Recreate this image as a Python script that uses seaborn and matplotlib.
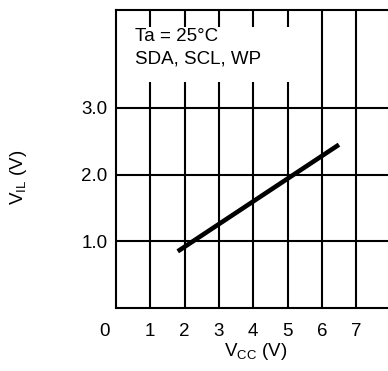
import matplotlib
matplotlib.use("Agg")
import matplotlib.pyplot as plt
from matplotlib.patches import Rectangle
import seaborn as sns
import pandas as pd

# V_IL vs V_CC (Ta = 25C)
vcc = [1.8, 6.5]
vil = [0.85, 2.45]
x_ticks = [1, 2, 3, 4, 5, 6, 7]
y_ticks = [1.0, 2.0, 3.0]
y_tick_labels = ["1.0", "2.0", "3.0"]
notes = ["Ta = 25\u00b0C", "SDA, SCL, WP"]

sns.set_theme(style="white")
plt.rcParams["font.family"] = ["Liberation Sans", "DejaVu Sans"]
plt.rcParams["mathtext.fontset"] = "custom"
plt.rcParams["mathtext.rm"] = "Liberation Sans"

FS = 13.5

df = pd.DataFrame({"vcc": vcc, "vil": vil})

fig = plt.figure(figsize=(3.88, 3.71), dpi=100)
ax = fig.add_axes([116 / 388, 63 / 371, 272 / 388, 298 / 371])

sns.lineplot(data=df, x="vcc", y="vil", color="black", linewidth=3.3,
             solid_capstyle="butt", ax=ax, zorder=5)

ax.set_xlim(0, 7.93)
ax.set_ylim(0, 4.47)
ax.set_xticks(x_ticks)
ax.set_xticklabels([str(t) for t in x_ticks])
ax.set_yticks(y_ticks)
ax.set_yticklabels(y_tick_labels)
ax.grid(True, color="black", linewidth=1.5)
ax.tick_params(axis="both", length=0, labelsize=FS, colors="black")
ax.tick_params(axis="x", pad=11)
ax.tick_params(axis="y", pad=6)

for side in ["left", "bottom", "top"]:
    ax.spines[side].set_color("black")
    ax.spines[side].set_linewidth(1.5)
ax.spines["right"].set_visible(False)

# white patch behind the notes, breaks the vertical grid lines
ax.add_patch(Rectangle((0.45, 3.39), 5.0, 0.82, facecolor="white",
                       edgecolor="none", zorder=3))
ax.text(0.55, 4.0, notes[0], fontsize=FS, color="black", zorder=4)
ax.text(0.55, 3.66, notes[1], fontsize=FS, color="black", zorder=4)

# corner "0"
ax.text(-0.33, -0.36, "0", fontsize=FS, color="black", ha="center",
        va="center", transform=ax.transData, clip_on=False)

ax.set_xlabel(r"V$_{\mathregular{CC}}$ (V)", fontsize=FS, color="black")
ax.set_ylabel(r"V$_{\mathregular{IL}}$ (V)", fontsize=FS, color="black")
ax.xaxis.set_label_coords(0.515, -0.112)
ax.yaxis.set_label_coords(-0.32, 0.44)

fig.savefig("out.png", dpi=100)
